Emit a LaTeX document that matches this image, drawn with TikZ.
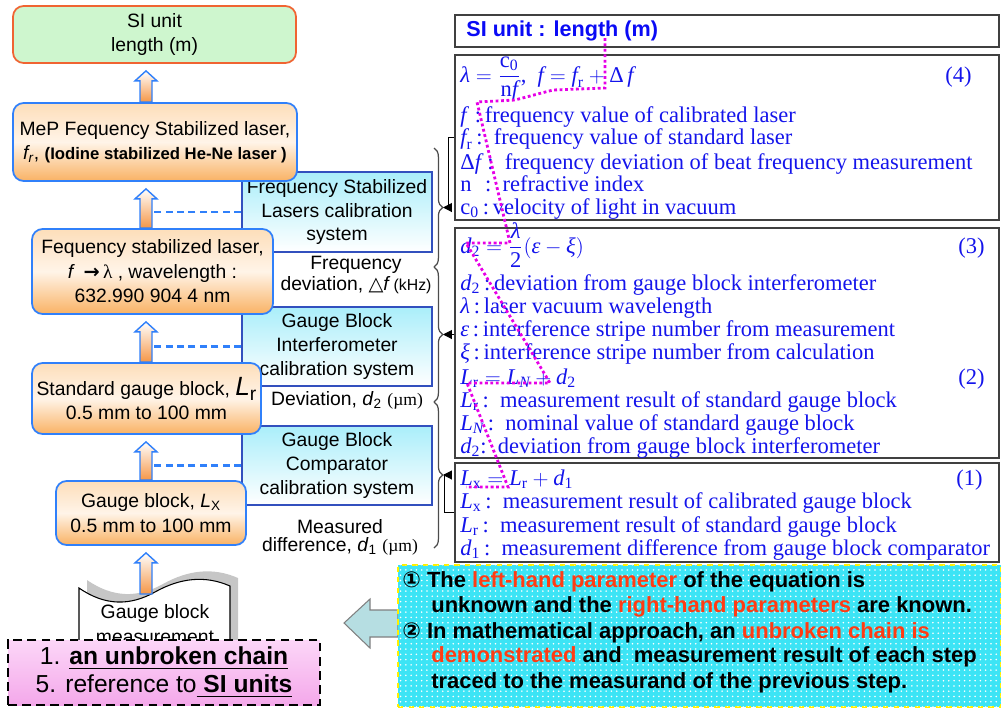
\documentclass[tikz,border=0pt]{standalone}
\usepackage{fontspec}
\usepackage{amsmath}
\setmainfont{Liberation Serif}
\setsansfont{Liberation Sans}
\newfontfamily\symfont{DejaVu Sans}
\definecolor{boxblue}{RGB}{48,128,250}
\definecolor{calblue}{RGB}{50,80,190}
\definecolor{calcyan}{RGB}{170,238,250}
\definecolor{orangetop}{RGB}{253,222,186}
\definecolor{orangemid}{RGB}{255,244,232}
\definecolor{orangebot}{RGB}{249,178,100}
\definecolor{arroworange}{RGB}{245,150,70}
\definecolor{sigreen}{RGB}{206,246,206}
\definecolor{sired}{RGB}{240,100,50}
\definecolor{eqblue}{RGB}{20,20,235}
\definecolor{titleblue}{RGB}{10,10,245}
\definecolor{pinktop}{RGB}{252,214,248}
\definecolor{pinkbot}{RGB}{244,168,234}
\definecolor{notecyan}{RGB}{60,228,245}
\definecolor{noteyellow}{RGB}{255,240,0}
\definecolor{noteorange}{RGB}{255,60,20}
\definecolor{tracepink}{RGB}{230,0,230}
\definecolor{backteal}{RGB}{182,222,226}
\tikzset{every picture/.style={/utils/exec={\sffamily}}}
\usetikzlibrary{calc}
\usetikzlibrary{arrows.meta}
\usetikzlibrary{decorations.pathreplacing}
\usetikzlibrary{patterns}

\newcommand{\itl}[1]{\textit{#1}}
\newcommand{\redword}[1]{\textcolor{noteorange}{#1}}

\tikzset{
  labbox/.style={draw=boxblue, line width=1pt, rounded corners=6pt, top color=orangetop, bottom color=orangebot, middle color=orangemid, align=center, inner sep=0pt, font=\fontsize{11}{13.9}\selectfont},
  calbox/.style={draw=calblue, line width=1pt, top color=calcyan, bottom color=white, align=center, inner sep=0pt, font=\fontsize{11}{13.4}\selectfont},
  eqbox/.style={draw=black!75, line width=0.8pt, inner sep=0pt},
  eqline/.style={anchor=base west, inner sep=0pt, text=eqblue, font=\rmfamily\fontsize{12.8}{13}\selectfont},
  eqnum/.style={anchor=base east, inner sep=0pt, text=eqblue, font=\rmfamily\fontsize{12.8}{13}\selectfont},
  sidelabel/.style={inner sep=0pt, align=center, font=\fontsize{11}{13}\selectfont},
  blockarrow/.style={draw=boxblue, line width=0.8pt, top color=white, bottom color=arroworange},
  dashline/.style={boxblue, dash pattern=on 4pt off 2.5pt, line width=1.2pt},
  chainbrace/.style={decorate, decoration={brace, amplitude=5pt}, line width=0.7pt, black!70},
  bracelink/.style={-{Triangle[length=5pt,width=5pt]}, line width=0.6pt},
  traceline/.style={tracepink, line width=1.6pt, dash pattern=on 1.6pt off 1.5pt},
  noteline/.style={anchor=base west, inner sep=0pt, font=\bfseries\fontsize{12.5}{14}\selectfont},
}

\begin{document}
\begin{tikzpicture}[x=0.02cm, y=-0.02cm]
  \useasboundingbox (0,0) rectangle (1001,707);

  % equations on the right
  \node [eqbox, minimum width=10.88cm, minimum height=0.64cm] (title) at (727,31) {};
  \node [anchor=west, inner sep=0pt, text=titleblue, font=\bfseries\fontsize{12.3}{14}\selectfont] (titletext) at (466,31) {SI unit : length (m)};

  \node [eqbox, minimum width=10.88cm, minimum height=3.30cm] (eqfour) at (727,137.5) {};
  \node [eqline] (fourA) at (460,82) {$\itl{λ}=\dfrac{\text{c}_{\text{0}}}{\text{n}\itl{f}}$,\ \ $\itl{f}=\itl{f}_{\text{r}}+\text{Δ}\,\itl{f}$};
  \node [eqline] (fourB) at (460,122) {\itl{f}~:\,frequency value of calibrated laser};
  \node [eqline] (fourC) at (460,144) {$\itl{f}_{\text{r}}$\,:\ \ frequency value of standard laser};
  \node [eqline] (fourD) at (460,169) {Δ\itl{f}\,:\ \ frequency deviation of beat frequency measurement};
  \node [eqline] (fourE) at (460,191) {n\hspace{0.6em}:\hspace{0.5em}refractive index};
  \node [eqline] (fourF) at (460,214) {$\text{c}_{\text{0}}$\,:\,velocity of light in vacuum};
  \node [eqnum] (numfour) at (972,82) {(4)};

  \node [eqbox, minimum width=10.88cm, minimum height=4.60cm] (eqthree) at (727,343) {};
  \node [eqline] (threeA) at (460,253) {$\itl{d}_{\text{2}}=\dfrac{\itl{λ}}{\text{2}}(\itl{ε}-\itl{ξ})$};
  \node [eqline] (threeB) at (460,290) {$\itl{d}_{\text{2}}$\,:\,deviation from gauge block interferometer};
  \node [eqline] (threeC) at (460,313) {\itl{λ}\,:\,laser vacuum wavelength};
  \node [eqline] (threeD) at (460,336) {\itl{ε}\,:\,interference stripe number from measurement};
  \node [eqline] (threeE) at (460,359) {\itl{ξ}\,:\,interference stripe number from calculation};
  \node [eqline] (twoA) at (460,384) {$\itl{L}_{\text{r}}=\itl{L}_{\itl{N}}+\itl{d}_{\text{2}}$};
  \node [eqline] (twoB) at (460,407) {$\itl{L}_{\text{r}}$\,:\ \ measurement result of standard gauge block};
  \node [eqline] (twoC) at (460,430) {$\itl{L}_{\itl{N}}$\,:\ \ nominal value of standard gauge block};
  \node [eqline] (twoD) at (460,453) {$\itl{d}_{\text{2}}$:\ \ deviation from gauge block interferometer};
  \node [eqnum] (numthree) at (985,253) {(3)};
  \node [eqnum] (numtwo) at (985,384) {(2)};

  \node [eqbox, minimum width=10.88cm, minimum height=1.98cm] (eqone) at (727,512.5) {};
  \node [eqline] (oneA) at (460,485) {$\itl{L}_{\text{x}}=\itl{L}_{\text{r}}+\itl{d}_{\text{1}}$};
  \node [eqline] (oneB) at (460,508) {$\itl{L}_{\text{x}}$\,:\ \ measurement result of calibrated gauge block};
  \node [eqline] (oneC) at (460,532) {$\itl{L}_{\text{r}}$\,:\ \ measurement result of standard gauge block};
  \node [eqline] (oneD) at (460,555) {$\itl{d}_{\text{1}}$\,:\ \ measurement difference from gauge block comparator};
  \node [eqnum] (numone) at (983,485) {(1)};

  % chain through the equations
  \draw [traceline] (605,38) -- (605,88) -- (553,90) -- (515,100) -- (477,102) -- (510,243) -- (466,243)
    -- (550,383) -- (467,383) -- (508,487) -- (466,487);

  % calibration systems
  \node [calbox, minimum width=3.80cm, minimum height=1.60cm] (calone) at (337,212) {Frequency Stabilized\\Lasers calibration\\system};
  \node [calbox, minimum width=3.80cm, minimum height=1.58cm] (caltwo) at (337,346.5) {Gauge Block\\Interferometer\\calibration system};
  \node [calbox, minimum width=3.80cm, minimum height=1.58cm] (calthree) at (337,465.5) {Gauge Block\\Comparator\\calibration system};

  % the chain on the left
  \node [labbox, draw=sired, top color=sigreen, bottom color=sigreen, middle color=sigreen, minimum width=5.66cm, minimum height=1.14cm] (si) at (154.5,34.5) {SI unit\\length (m)};
  \node [labbox, minimum width=5.68cm, minimum height=1.56cm] (mep) at (155,142) {MeP Fequency Stabilized laser,\\\itl{f\textsubscript{r}}, {\bfseries\fontsize{9.5}{12}\selectfont (Iodine stabilized He-Ne laser )}};
  \node [labbox, minimum width=4.82cm, minimum height=1.70cm] (laser) at (152.5,271.5) {Fequency stabilized laser,\\\itl{f} \,{\symfont\bfseries →}\,{\rmfamily λ} , wavelength :\\632.990 904 4 nm};
  \node [labbox, minimum width=4.58cm, minimum height=1.42cm] (stdgb) at (146.5,398.5) {Standard gauge block, {\fontsize{15}{15}\selectfont\itl{L}}\raisebox{-3pt}{r}\\0.5 mm to 100 mm};
  \node [labbox, minimum width=3.80cm, minimum height=1.28cm] (gb) at (151,513) {Gauge block, \itl{L}\textsubscript{X}\\0.5 mm to 100 mm};

  \node [sidelabel] (fdevA) at (356,265) {Frequency};
  \node [sidelabel] (fdevB) at (356,285) {deviation, {\symfont △}\itl{f}\,{\fontsize{9}{10}\selectfont(kHz)}};
  \node [sidelabel] (dev) at (347,400) {Deviation, \itl{d}\textsubscript{2} {\rmfamily\fontsize{10}{10}\selectfont(µm)}};
  \node [sidelabel] (measA) at (340,527) {Measured};
  \node [sidelabel] (measB) at (340,546) {difference, \itl{d}\textsubscript{1} {\rmfamily\fontsize{10}{10}\selectfont(µm)}};

  % braces and links
  \draw [chainbrace] (434,148) -- (434,267);
  \draw [chainbrace] (434,267) -- (434,402);
  \draw [chainbrace] (434,402) -- (434,548);
  \coordinate (tipA) at (443,207.5);
  \coordinate (tipB) at (443,334.5);
  \coordinate (tipC) at (443,475);
  \draw [bracelink] (eqfour.west) -- ++(-6,0) |- (tipA);
  \draw [bracelink] (eqthree.west |- tipB) -- (tipB);
  \draw [bracelink] (eqone.west) -- ++(-10,0) |- (tipC);

  % measurement document
  \fill [gray!45] (87,650) -- (87,580) .. controls (113,598) and (138,598) .. (163,584) .. controls (188,570) and (213,567) .. (238,578) -- (238,650) -- cycle;
  \draw [fill=white, line width=0.6pt] (79,650) -- (79,588) .. controls (105,606) and (130,606) .. (155,592) .. controls (180,578) and (205,575) .. (230,586) -- (230,650);
  \node [sidelabel, align=center, font=\fontsize{11}{14.2}\selectfont] (doc) at (155,624) {Gauge block\\measurement};
  \coordinate (docwave) at (146,594);

  % block arrows and dashed links
  \coordinate (axis) at (146,0);
  \coordinate (shaft) at (152,0);
  \foreach \a/\b in {mep.north/si.south, laser.north/mep.south, stdgb.north/laser.south, gb.north/stdgb.south, docwave/gb.south}{
    \path (\a -| axis) coordinate (s) (\b -| axis) coordinate (e);
    \draw [blockarrow] ($(s)+(-6,0)$) -- ($(e)+(-6,17)$) -- ($(e)+(-11,17)$) -- ($(e)+(0,7)$)
      -- ($(e)+(11,17)$) -- ($(e)+(6,17)$) -- ($(s)+(6,0)$) -- cycle;
  }
  \foreach \c in {calone,caltwo,calthree}
    \draw [dashline] (\c.west) -- (\c.west -| shaft);

  % principles
  \node [draw=black, dash pattern=on 5pt off 3pt, line width=1.1pt, top color=pinktop, bottom color=pinkbot, minimum width=6.24cm, minimum height=1.30cm, inner sep=0pt, align=center, font=\fontsize{14}{16}\selectfont] (chain) at (164,672.5)
    {1. \underline{\bfseries an unbroken chain}\\5. reference to\underline{\bfseries\ SI units}};

  \draw [fill=backteal, draw=gray, line width=0.6pt] (344,623) -- (370,599) -- (370,610) -- (398,610) -- (398,637) -- (370,637) -- (370,648) -- cycle;

  \node [draw=noteyellow, dashed, line width=1.5pt, fill=notecyan, postaction={pattern=dots, pattern color=white}, minimum width=12.06cm, minimum height=2.84cm] (note) at (699.5,636) {};
  \node [noteline] (noteA) at (402,587) {{\symfont ①} The \redword{left-hand parameter} of the equation is};
  \node [noteline] (noteB) at (431,612) {unknown and the \redword{right-hand parameters} are known.};
  \node [noteline] (noteC) at (402,638) {{\symfont ②} In mathematical approach, an \redword{unbroken chain is}};
  \node [noteline] (noteD) at (431,662) {\redword{demonstrated} and\ \ measurement result of each step};
  \node [noteline] (noteE) at (431,688) {traced to the measurand of the previous step.};

\end{tikzpicture}
\end{document}
